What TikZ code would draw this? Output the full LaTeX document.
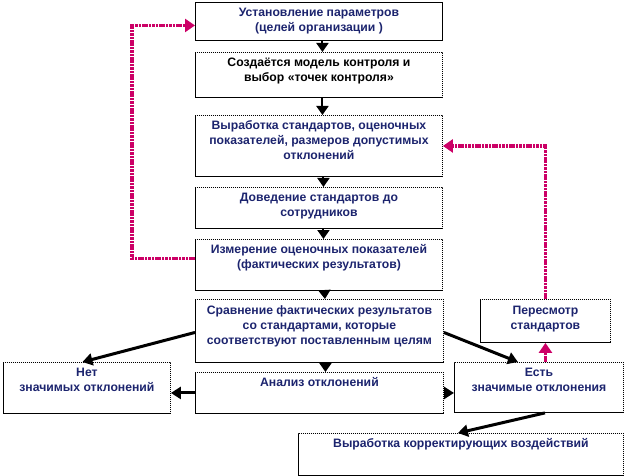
\documentclass[tikz,border=0pt]{standalone}
\usepackage{fontspec}
\setmainfont{Liberation Sans}
\usetikzlibrary{arrows.meta}
\definecolor{navy}{RGB}{28,36,110}
\definecolor{mag}{RGB}{204,0,102}
\begin{document}
\begin{tikzpicture}[x=1pt,y=-1pt,
 box/.style={draw, dash pattern=on 1.2pt off 0.8pt, line width=0.9pt, rectangle, inner sep=0pt, anchor=north west},
 txt/.style={anchor=north, align=center, font=\bfseries\fontsize{12.2}{15}\selectfont, text=navy, inner sep=0pt},
 darr/.style={line width=2pt, -{Triangle[width=12pt,length=9pt]}},
 thk/.style={line width=3pt, -{Triangle[width=12pt,length=10pt]}},
 marr/.style={mag, line width=3.2pt, dash pattern=on 2.6pt off 0.8pt, -{Triangle[width=13pt,length=10pt]}}]
\useasboundingbox (0,0) rectangle (624,476);
% boxes
\node[box, solid, minimum width=247pt, minimum height=38pt] (b1) at (195,2) {};
\node[box, minimum width=247pt, minimum height=45pt] (b2) at (195,52) {};
\node[box, minimum width=247pt, minimum height=61pt] (b3) at (195,115) {};
\node[box, minimum width=247pt, minimum height=41pt] (b4) at (195,187) {};
\node[box, minimum width=247pt, minimum height=51pt] (b5) at (195,239) {};
\node[box, minimum width=248pt, minimum height=63pt] (b6) at (195,299) {};
\node[box, minimum width=248pt, minimum height=41pt] (b7) at (195,372) {};
\node[box, minimum width=167pt, minimum height=51pt] (bn) at (3,362) {};
\node[box, minimum width=169pt, minimum height=50pt] (be) at (454,362) {};
\node[box, minimum width=130pt, minimum height=43pt] (bp) at (480,299) {};
\node[box, minimum width=325pt, minimum height=42pt] (bk) at (298,433) {};
% texts
\node[txt] (t1) at ([yshift=-5.5pt]b1.north) {Установление параметров\\(целей организации )};
\node[txt, text=black] (t2) at ([yshift=-5.5pt]b2.north) {Создаётся модель контроля и\\выбор «точек контроля»};
\node[txt] (t3) at ([yshift=-5.5pt]b3.north) {Выработка стандартов, оценочных\\показателей, размеров допустимых\\отклонений};
\node[txt] (t4) at ([yshift=-5.5pt]b4.north) {Доведение стандартов до\\сотрудников};
\node[txt] (t5) at ([yshift=-5.5pt]b5.north) {Измерение оценочных показателей\\(фактических результатов)};
\node[txt] (t6) at ([yshift=-6.5pt]b6.north) {Сравнение фактических результатов\\со стандартами, которые\\соответствуют поставленным целям};
\node[txt] (t7) at ([yshift=-5.5pt]b7.north) {Анализ отклонений};
\node[txt] (tn) at ([yshift=-5.5pt]bn.north) {Нет\\значимых отклонений};
\node[txt] (te) at ([yshift=-5.5pt]be.north) {Есть\\значимые отклонения};
\node[txt] (tp) at ([yshift=-6.5pt]bp.north) {Пересмотр\\стандартов};
\node[txt] (tk) at ([yshift=-5.5pt]bk.north) {Выработка корректирующих воздействий};
% vertical arrows
\draw[darr] ([xshift=3.5pt]b1.south) -- ([xshift=3.5pt]b2.north);
\draw[darr] ([xshift=3.5pt]b2.south) -- ([xshift=3.5pt]b3.north);
\draw[darr] ([xshift=4.5pt]b3.south) -- ([xshift=4.5pt]b4.north);
\draw[darr] ([xshift=4.5pt]b4.south) -- ([xshift=4.5pt]b5.north);
\draw[darr] ([xshift=5.5pt]b5.south) -- ([xshift=5.5pt]b6.north);
\draw[darr] ([xshift=6pt]b6.south) -- ([xshift=6pt]b7.north);
% branches
\draw[thk] ([yshift=-1.5pt]b6.west) -- ([xshift=-4.5pt]bn.north);
\draw[thk] (b7.west) -- (b7.west -| bn.east);
\draw[thk] ([yshift=-1.5pt]b6.east) -- ([xshift=-21pt]be.north);
\draw[thk] (b7.east) -- (b7.east -| be.west);
\draw[thk] ([xshift=6pt]be.south) -- ([xshift=-3pt]bk.north);
% magenta feedback
\draw[marr] (bp.south |- be.north) -- (bp.south);
\draw[marr] (bp.north) |- (b3.east);
\coordinate (lc) at (132,0);
\coordinate (m1) at ([yshift=6.5pt]b5.west);
\coordinate (m2) at ([yshift=-4pt]b1.west);
\draw[marr] (m1) -- (m1 -| lc) |- (m2);
\end{tikzpicture}
\end{document}
